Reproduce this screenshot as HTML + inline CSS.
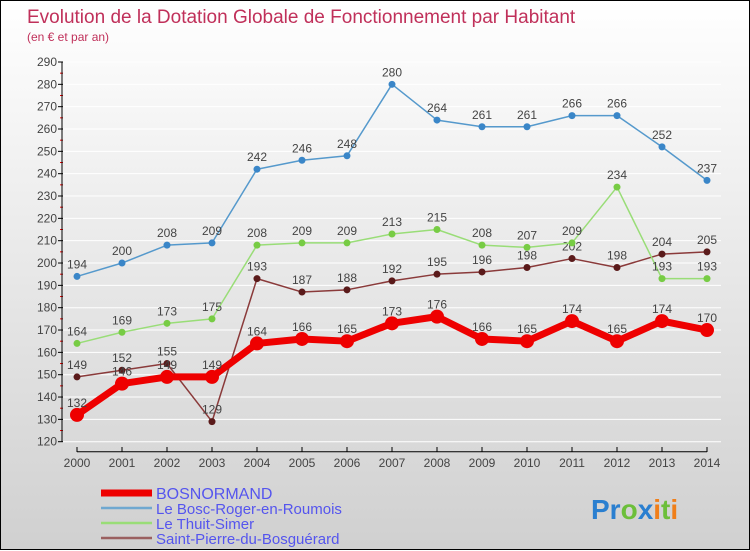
<!DOCTYPE html>
<html><head><meta charset="utf-8"><style>
html,body{margin:0;padding:0}
body{width:750px;height:550px;overflow:hidden;font-family:"Liberation Sans",sans-serif}
#wrap{position:relative;width:748px;height:548px;border:1px solid #000;background:linear-gradient(#ffffff,#d0d0d0)}
svg{position:absolute;left:0;top:0}
</style></head><body>
<div id="wrap">
<svg id="chart" width="750" height="550">
<text x="26" y="22" font-size="19" fill="#c0305a">Evolution de la Dotation Globale de Fonctionnement par Habitant</text>
<text x="26" y="40" font-size="12" fill="#c0305a">(en € et par an)</text>
<text x="590" y="518" font-size="28" font-weight="bold" fill="#2a7fd0">Pr<tspan fill="#6cbf3a">o</tspan><tspan fill="#2a7fd0">x</tspan><tspan fill="#f07f1a">i</tspan><tspan fill="#6cbf3a">t</tspan><tspan fill="#f07f1a">i</tspan></text>
</svg>
</div>
<script>
const years=[2000,2001,2002,2003,2004,2005,2006,2007,2008,2009,2010,2011,2012,2013,2014];
const bosnormand=[132,146,149,149,164,166,165,173,176,166,165,174,165,174,170];
const bosc=[194,200,208,209,242,246,248,280,264,261,261,266,266,252,237];
const thuit=[164,169,173,175,208,209,209,213,215,208,207,209,234,193,193];
const stpierre=[149,152,155,129,193,187,188,192,195,196,198,202,198,204,205];
const yTicks=[120,130,140,150,160,170,180,190,200,210,220,230,240,250,260,270,280,290];
const svg=document.getElementById('chart');
const NS='http://www.w3.org/2000/svg';
const X=i=>76+i*45;
const Y=v=>440.7-(v-120)*(379.7/170);
function mk(t,a,p){const e=document.createElementNS(NS,t);for(const k in a)e.setAttribute(k,a[k]);(p||svg).appendChild(e);return e;}
// grid
yTicks.forEach(v=>{
 const g=mk('line',{x1:61,x2:720,y1:Y(v),y2:Y(v),stroke:'#ffffff','stroke-width':1});
 
 
 const t=mk('line',{x1:57,x2:62,y1:Y(v),y2:Y(v),stroke:'#000'});
 
 
 const l=mk('text',{x:56,y:Y(v)+4,'font-size':12,'text-anchor':'end',fill:'#444'});
 l.textContent=v;
 
 
 if(v<290){const m=mk('line',{x1:59,x2:62,y1:Y(v+5),y2:Y(v+5),stroke:'#e00'});
 
 }
});
const ya=mk('line',{x1:61,x2:61,y1:Y(290),y2:Y(120),stroke:'#000'});


const xa=mk('line',{x1:76,x2:706,y1:450.7,y2:450.7,stroke:'#000'});


years.forEach((y,i)=>{
 const t=mk('line',{x1:X(i),x2:X(i),y1:446,y2:451,stroke:'#000'});
 
 
 const l=mk('text',{x:X(i),y:466,'font-size':12,'text-anchor':'middle',fill:'#444'});
 l.textContent=y;
 
 
});
function series(data,color,dot,w,r,name){
 const pts=data.map((v,i)=>X(i)+','+Y(v)).join(' ');
 const p=mk('polyline',{points:pts,fill:'none',stroke:color,'stroke-width':w,'stroke-linejoin':'round'});
 
 
 data.forEach((v,i)=>{
  const c=mk('circle',{cx:X(i),cy:Y(v),r:r,fill:dot});
  
  
  const l=mk('text',{x:X(i),y:Y(v)-8,'font-size':12,'text-anchor':'middle',fill:'#444'});
  l.textContent=v;
  
  
 });
}
series(stpierre,'#8a3a3a','#5a1a1a',1.5,3.5,'saint-pierre');
series(thuit,'#99dd77','#77cc44',1.5,3.5,'thuit-simer');
series(bosc,'#5599cc','#3a86c8',1.5,3.5,'bosc-roger');
series(bosnormand,'#ee0000','#ee0000',7,7,'bosnormand');
const leg=[['BOSNORMAND','#ee0000',7],['Le Bosc-Roger-en-Roumois','#6fa8d0',2.5],['Le Thuit-Simer','#99dd77',2.5],['Saint-Pierre-du-Bosguérard','#9a6060',2.5]];
leg.forEach((e,i)=>{
 const y=492+i*15;
 const l=mk('line',{x1:100,x2:151,y1:y,y2:y,stroke:e[1],'stroke-width':e[2]});
 
 
 const t=mk('text',{x:155,y:y+6,'font-size':i==0?16:15,fill:'#5555ee'});
 t.textContent=e[0];
 
 
});
</script>
</body></html>
